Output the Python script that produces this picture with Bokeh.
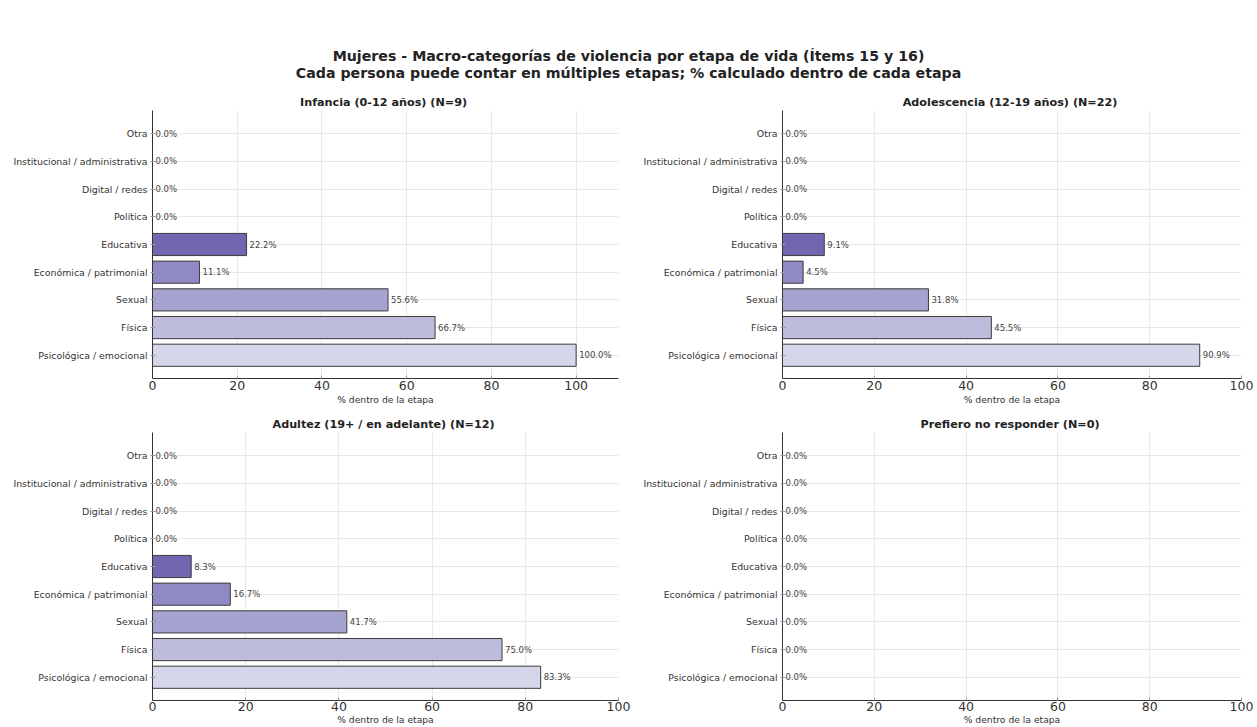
from bokeh.plotting import figure
from bokeh.models import Range1d, FixedTicker, Label, ColumnDataSource, LabelSet
from bokeh.layouts import column, row
from bokeh.core.properties import value
from bokeh.embed import file_html
from bokeh.resources import INLINE

# ---------------- data ----------------
categories = ["Psicológica / emocional", "Física", "Sexual", "Económica / patrimonial",
              "Educativa", "Política", "Digital / redes", "Institucional / administrativa", "Otra"]
infancia = [100.0, 66.7, 55.6, 11.1, 22.2, 0.0, 0.0, 0.0, 0.0]
adolescencia = [90.9, 45.5, 31.8, 4.5, 9.1, 0.0, 0.0, 0.0, 0.0]
adultez = [83.3, 75.0, 41.7, 16.7, 8.3, 0.0, 0.0, 0.0, 0.0]
prefiero = [0.0, 0.0, 0.0, 0.0, 0.0, 0.0, 0.0, 0.0, 0.0]
panel_titles = ["Infancia (0-12 años)  (N=9)", "Adolescencia (12-19 años)  (N=22)",
                "Adultez (19+ / en adelante)  (N=12)", "Prefiero no responder  (N=0)"]
x_max = [110, 100, 100, 100]
x_ticks = [0, 20, 40, 60, 80, 100]
main_title = ["Mujeres - Macro-categorías de violencia por etapa de vida (Ítems 15 y 16)",
              "Cada persona puede contar en múltiples etapas; % calculado dentro de cada etapa"]
x_label = "% dentro de la etapa"
bar_colors = ["#d6d6ea", "#bdbcdc", "#a5a3cf", "#8f8ac3", "#7365b0",
              "#5e4aa0", "#54278f", "#4a1486", "#3f007d"]

FONT = "DejaVu Sans"


def make_panel(title, values, xmax, left_col, top_row):
    if left_col:
        width, bl, br = 640, 152, 22
    else:
        width, bl, br = 617, 138, 16
    if top_row:
        height, bt, bb = 322, 22, 32
    else:
        height, bt, bb = 317, 22, 27
    p = figure(width=width, height=height, output_backend="svg", toolbar_location=None,
               x_range=Range1d(0, xmax), y_range=Range1d(-0.84, len(categories) - 1 + 0.84),
               min_border_left=bl, min_border_right=br, min_border_top=bt, min_border_bottom=bb)
    src = ColumnDataSource(dict(
        y=list(range(len(categories))),
        value=values,
        label=["%.1f%%" % v for v in values],
        color=bar_colors[:len(categories)],
    ))
    p.hbar(y="y", left=0, right="value", height=0.8, source=src,
           fill_color="color", line_color="#3c3c3c", line_width=1)
    p.add_layout(LabelSet(x="value", y="y", text="label", source=src, x_offset=3,
                          text_baseline="middle", text_font_size="8.5px",
                          text_color="#444444", text_font=value(FONT)))
    p.outline_line_color = None
    p.background_fill_color = "white"
    p.border_fill_color = "white"
    # grids
    p.xgrid.grid_line_color = "#e8e8e8"
    p.ygrid.grid_line_color = "#e8e8e8"
    p.xgrid.ticker = FixedTicker(ticks=x_ticks)
    p.ygrid.ticker = FixedTicker(ticks=list(range(len(categories))))
    # x axis
    xa = p.xaxis[0]
    xa.ticker = FixedTicker(ticks=x_ticks)
    xa.axis_label = x_label
    xa.axis_label_text_font = FONT
    xa.axis_label_text_font_size = "9.2px"
    xa.axis_label_text_font_style = "normal"
    xa.axis_label_text_color = "#333333"
    xa.axis_label_standoff = 1 if top_row else 0
    xa.major_label_text_font = FONT
    xa.major_label_text_font_size = "12.5px"
    xa.major_label_text_color = "#333333"
    xa.major_label_standoff = 2 if top_row else 1
    xa.major_tick_in = 3
    xa.major_tick_out = 0
    xa.minor_tick_in = 0
    xa.minor_tick_out = 0
    xa.axis_line_color = "#333333"
    xa.major_tick_line_color = "#999999"
    # y axis
    ya = p.yaxis[0]
    ya.ticker = FixedTicker(ticks=list(range(len(categories))))
    ya.major_label_overrides = {i: c for i, c in enumerate(categories)}
    ya.major_label_text_font = FONT
    ya.major_label_text_font_size = "9.4px"
    ya.major_label_text_color = "#333333"
    ya.major_label_standoff = 3
    ya.major_tick_in = 3
    ya.major_tick_out = 2
    ya.minor_tick_in = 0
    ya.minor_tick_out = 0
    ya.axis_line_color = "#333333"
    ya.major_tick_line_color = "#999999"
    # title
    p.title.text = title
    p.title.align = "center"
    p.title.text_font = FONT
    p.title.text_font_size = "11.2px"
    p.title.text_font_style = "bold"
    p.title.text_color = "#222222"
    p.title.standoff = 4
    return p


# main title figure
t = figure(width=1257, height=88, output_backend="svg", toolbar_location=None,
           x_range=Range1d(0, 1), y_range=Range1d(0, 1),
           min_border=0, min_border_left=0, min_border_right=0, min_border_top=0, min_border_bottom=0)
t.axis.visible = False
t.grid.visible = False
t.outline_line_color = None
for i, line in enumerate(main_title):
    t.add_layout(Label(x=628, y=33 - 17 * i, x_units="screen", y_units="screen", text=line,
                       text_align="center", text_baseline="middle", text_font=FONT,
                       text_font_size="14.2px", text_font_style="bold", text_color="#222222"))

p1 = make_panel(panel_titles[0], infancia, x_max[0], True, True)
p2 = make_panel(panel_titles[1], adolescencia, x_max[1], False, True)
p3 = make_panel(panel_titles[2], adultez, x_max[2], True, False)
p4 = make_panel(panel_titles[3], prefiero, x_max[3], False, False)

layout = column(t, row(p1, p2), row(p3, p4))
open("out.html", "w").write(file_html(layout, INLINE))
